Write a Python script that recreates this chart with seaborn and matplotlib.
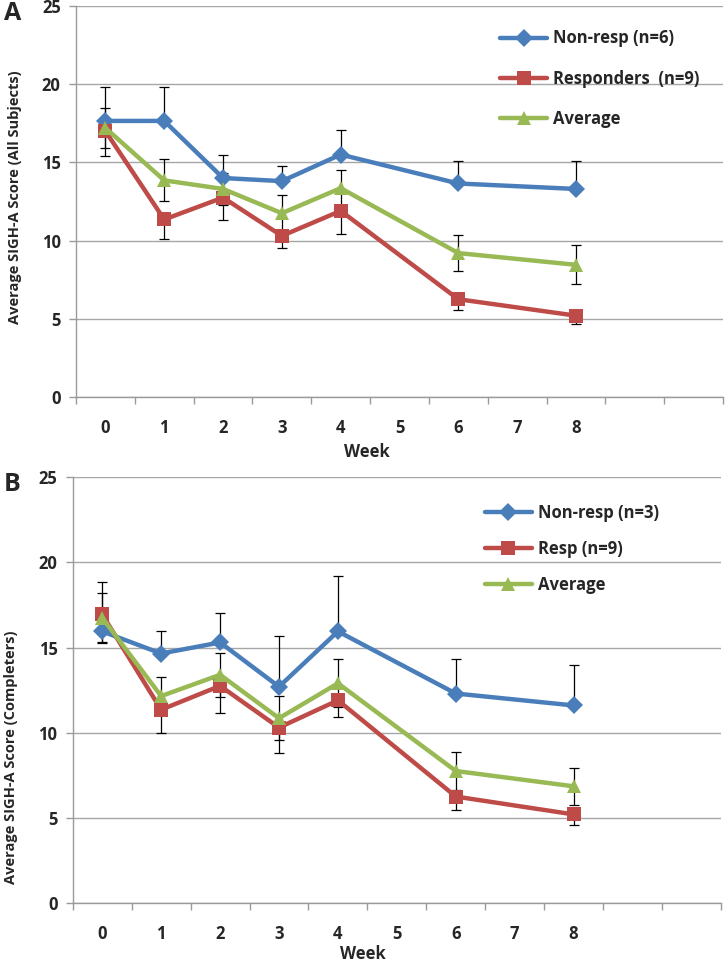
import numpy as np
import pandas as pd
import matplotlib
matplotlib.use("Agg")
import matplotlib.pyplot as plt
import seaborn as sns

# ==========================
# Data
# ==========================
weeks = [0, 1, 2, 3, 4, 6, 8]
week_labels = ["0", "1", "2", "3", "4", "5", "6", "7", "8"]

# Panel A - all subjects
nonresp_a = [17.65, 17.65, 14.0, 13.8, 15.5, 13.65, 13.3]
nonresp_a_err = [2.15, 2.2, 1.45, 1.0, 1.6, 1.45, 1.8]
resp_a = [17.0, 11.35, 12.75, 10.3, 11.9, 6.25, 5.2]
resp_a_err = [1.6, 1.25, 1.45, 0.8, 1.45, 0.7, 0.55]
avg_a = [17.2, 13.85, 13.3, 11.75, 13.35, 9.2, 8.45]
avg_a_err = [1.3, 1.35, 1.05, 1.15, 1.15, 1.15, 1.25]
labels_a = ["Non-resp (n=6)", "Responders  (n=9)", "Average"]

# Panel B - completers
nonresp_b = [15.95, 14.65, 15.3, 12.7, 15.95, 12.3, 11.6]
nonresp_b_err = [2.9, 1.3, 1.75, 2.95, 3.25, 2.0, 2.4]
resp_b = [16.95, 11.35, 12.75, 10.3, 11.9, 6.25, 5.2]
resp_b_err = [1.7, 1.35, 1.6, 1.5, 0.95, 0.8, 0.6]
avg_b = [16.75, 12.15, 13.4, 10.85, 12.9, 7.75, 6.85]
avg_b_err = [1.45, 1.1, 1.3, 1.3, 1.4, 1.1, 1.1]
labels_b = ["Non-resp (n=3)", "Resp (n=9)", "Average"]

colors = ["#4A7EBB", "#BE4B48", "#98B954"]
markers = ["D", "s", "^"]

sns.set_theme(style="white")
plt.rcParams["font.family"] = ["Open Sans", "DejaVu Sans"]
plt.rcParams["font.weight"] = "bold"

fig = plt.figure(figsize=(7.28, 9.64), dpi=100)
ax_a = fig.add_axes([0.1044, 0.5882, 0.8887, 0.4056])
ax_b = fig.add_axes([0.0999, 0.0633, 0.8905, 0.4416])


def draw_panel(ax, series, errs, labels, ylabel, label_y, leg_x, leg_y, leg_space):
    frames = []
    for vals, lab in zip(series, labels):
        frames.append(pd.DataFrame({"Week": weeks, "Score": vals, "Group": lab}))
    df = pd.concat(frames, ignore_index=True)

    # error bars: non-resp upward, responders downward, average both ways
    err_dirs = [(0, 1), (1, 0), (1, 1)]
    for vals, err, (lo, hi) in zip(series, errs, err_dirs):
        err = np.array(err)
        ax.errorbar(weeks, vals, yerr=[err * lo, err * hi], fmt="none",
                    ecolor="black", elinewidth=0.9, capsize=3.5, capthick=0.9,
                    zorder=2)

    sns.lineplot(
        data=df, x="Week", y="Score", hue="Group", style="Group",
        hue_order=labels, style_order=labels,
        palette=dict(zip(labels, colors)),
        markers=dict(zip(labels, markers)),
        dashes=False, linewidth=3.2, markersize=9.5, markeredgewidth=0,
        ax=ax, zorder=3, sort=False
    )

    ax.set_xlim(-0.5, 10.5)
    ax.set_ylim(0, 25)
    ax.set_yticks([0, 5, 10, 15, 20, 25])
    ax.set_xticks(range(len(week_labels)))
    ax.set_xticklabels(week_labels)
    ax.set_xticks(np.arange(-0.5, 11, 1), minor=True)
    ax.tick_params(axis="x", which="major", length=0, pad=16, labelsize=12)
    ax.tick_params(axis="x", which="minor", length=5, width=1, color="#9A9A9A",
                   direction="out", bottom=True)
    ax.tick_params(axis="y", length=5, width=1, color="#9A9A9A", direction="out",
                   left=True, pad=6, labelsize=12)

    ax.grid(axis="y", color="#A6A6A6", linewidth=1)
    ax.grid(axis="x", visible=False)
    for side in ["top", "right"]:
        ax.spines[side].set_visible(False)
    for side in ["left", "bottom"]:
        ax.spines[side].set_color("#9A9A9A")
        ax.spines[side].set_linewidth(1)

    ax.set_xlabel("Week", fontsize=12, fontweight="bold")
    ax.set_ylabel(ylabel, fontsize=10.5, fontweight="bold")
    ax.yaxis.set_label_coords(-0.084, label_y)

    ax.legend(loc="upper left", bbox_to_anchor=(leg_x, leg_y), frameon=False,
              borderaxespad=0, borderpad=0, handlelength=2.8, handletextpad=0.35,
              labelspacing=leg_space, prop={"size": 12, "weight": "bold"})


draw_panel(ax_a, [nonresp_a, resp_a, avg_a], [nonresp_a_err, resp_a_err, avg_a_err],
           labels_a, "Average SIGH-A Score (All Subjects)", 0.51, 0.656, 0.94, 1.33)
ax_a.xaxis.set_label_coords(0.45, -0.118)

draw_panel(ax_b, [nonresp_b, resp_b, avg_b], [nonresp_b_err, resp_b_err, avg_b_err],
           labels_b, "Average SIGH-A Score (Completers)", 0.343, 0.636, 0.937, 1.08)
ax_b.xaxis.set_label_coords(0.448, -0.099)

fig.text(0.017, 0.986, "A", fontsize=18, fontweight="bold", va="center", ha="center")
fig.text(0.017, 0.497, "B", fontsize=18, fontweight="bold", va="center", ha="center")

fig.savefig("out.png", dpi=100)
